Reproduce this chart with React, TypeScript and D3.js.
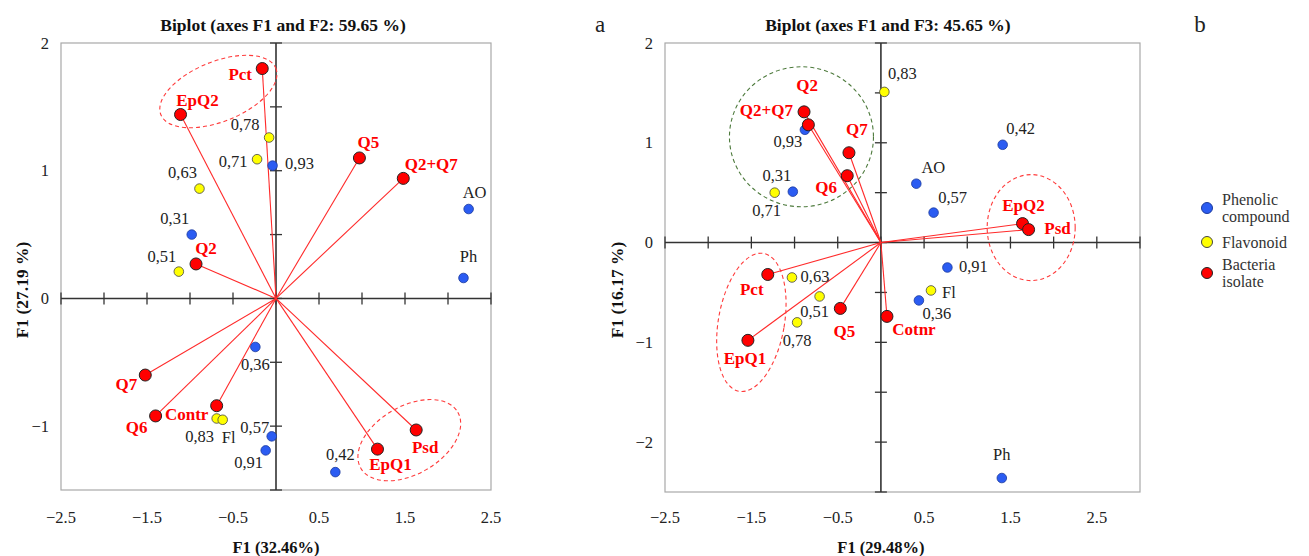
import * as d3 from "d3";

const W = 1309;
const H = 556;

// ---- panel a : F1 x F2 ----
const phenolA: [string, number, number][] = [
  ["0,93", -0.04, 1.04],
  ["0,31", -0.98, 0.5],
  ["AO", 2.24, 0.7],
  ["Ph", 2.18, 0.16],
  ["0,36", -0.24, -0.38],
  ["0,57", -0.05, -1.08],
  ["0,91", -0.12, -1.19],
  ["0,42", 0.69, -1.36],
];
const flavA: [string, number, number][] = [
  ["0,78", -0.08, 1.26],
  ["0,71", -0.22, 1.09],
  ["0,63", -0.89, 0.86],
  ["0,51", -1.13, 0.21],
  ["0,83", -0.69, -0.94],
  ["Fl", -0.62, -0.95],
];
const bactA: [string, number, number][] = [
  ["Pct", -0.16, 1.8],
  ["EpQ2", -1.11, 1.44],
  ["Q5", 0.97, 1.1],
  ["Q2+Q7", 1.48, 0.94],
  ["Q2", -0.93, 0.27],
  ["Q7", -1.52, -0.6],
  ["Q6", -1.4, -0.92],
  ["Contr", -0.69, -0.84],
  ["EpQ1", 1.18, -1.18],
  ["Psd", 1.63, -1.03],
];

// ---- panel b : F1 x F3 ----
const phenolB: [string, number, number][] = [
  ["0,93", -0.88, 1.13],
  ["0,31", -1.02, 0.51],
  ["0,42", 1.41, 0.98],
  ["AO", 0.41, 0.59],
  ["0,57", 0.61, 0.3],
  ["0,91", 0.77, -0.25],
  ["0,36", 0.44, -0.58],
  ["Ph", 1.4, -2.36],
];
const flavB: [string, number, number][] = [
  ["0,83", 0.04, 1.51],
  ["0,71", -1.23, 0.5],
  ["0,63", -1.03, -0.35],
  ["0,51", -0.71, -0.54],
  ["0,78", -0.97, -0.8],
  ["Fl", 0.58, -0.48],
];
const bactB: [string, number, number][] = [
  ["Q2", -0.89, 1.31],
  ["Q2+Q7", -0.84, 1.18],
  ["Q7", -0.37, 0.9],
  ["Q6", -0.39, 0.67],
  ["EpQ2", 1.64, 0.19],
  ["Psd", 1.71, 0.13],
  ["Pct", -1.31, -0.32],
  ["Q5", -0.47, -0.66],
  ["EpQ1", -1.54, -0.98],
  ["Cotnr", 0.07, -0.74],
];

const xLabelTicks = [-2.5, -1.5, -0.5, 0.5, 1.5, 2.5];
const legendItems = [["Phenolic", "compound"], ["Flavonoid"], ["Bacteria", "isolate"]];

// label nudges (px from the point)
const nudgeA: Record<string, [number, number]> = {
  Pct: [-22, 6], EpQ2: [17, -14], Q5: [9, -15], "Q2+Q7": [28, -14], Q2: [10, -15],
  Q7: [-19, 9], Q6: [-19, 12], Contr: [-30, 9], EpQ1: [13, 15], Psd: [9, 18],
  "0,78": [-24, -13], "0,71": [-24, 2], "0,63": [-17, -16], "0,51": [-17, -15],
  "0,83": [-17, 18], Fl: [6, 18], "0,93": [27, -2], "0,31": [-17, -16],
  AO: [6, -17], Ph: [5, -21], "0,36": [0, 18], "0,57": [-17, -9], "0,91": [-17, 12], "0,42": [5, -18],
};
const nudgeB: Record<string, [number, number]> = {
  Q2: [3, -26], "Q2+Q7": [-42, -14], Q7: [8, -23], Q6: [-21, 12], EpQ2: [1, -18],
  Psd: [29, -1], Pct: [-16, 15], Q5: [4, 23], EpQ1: [-3, 18], Cotnr: [27, 13],
  "0,83": [18, -18], "0,71": [-8, 18], "0,63": [23, -1], "0,51": [-5, 15], "0,78": [0, 18],
  Fl: [18, 2], "0,93": [-17, 12], "0,31": [-16, -16], "0,42": [18, -16], AO: [17, -16],
  "0,57": [19, -15], "0,91": [26, -1], "0,36": [18, 13], Ph: [0, -24],
};

type Ring = { cx: number; cy: number; rx: number; ry: number; rot: number; color: string };
const ringsA: Ring[] = [
  { cx: -0.67, cy: 1.62, rx: 62, ry: 30, rot: -22, color: "#ff3b3b" },
  { cx: 1.55, cy: -1.11, rx: 56, ry: 34, rot: -30, color: "#ff3b3b" },
];
const ringsB: Ring[] = [
  { cx: -0.92, cy: 1.06, rx: 72, ry: 70, rot: 0, color: "#4d7a3c" },
  { cx: 1.74, cy: 0.15, rx: 44, ry: 53, rot: 0, color: "#ff3b3b" },
  { cx: -1.5, cy: -0.8, rx: 33, ry: 70, rot: 10, color: "#ff3b3b" },
];

const RED = "#ff0000";
const BLUE = "#2b5cf2";
const YELLOW = "#ffff00";

const fmt = (v: number) => (v < 0 ? "\u2212" : "") + Math.abs(v);

function Biplot(props: any) {
  const { title, tag, tagX, xTitle, yTitle, yTitleX, xDomain, yDomain, left, right, top, bottom,
    phenol, flav, bact, nudge, rings } = props;
  const x = d3.scaleLinear().domain(xDomain).range([left, right]);
  const y = d3.scaleLinear().domain(yDomain).range([bottom, top]);
  const x0 = x(0);
  const y0 = y(0);
  const xTicks = d3.range(xDomain[0], xDomain[1] + 1e-6, 0.5);
  const yTicks = d3.range(yDomain[0], yDomain[1] + 1e-6, 0.5);
  const yLabels = yTicks.filter((v) => Number.isInteger(v));

  const label = (d: [string, number, number], red: boolean) => {
    const [dx, dy] = nudge[d[0]] || [0, 0];
    return (
      <text key={"l" + d[0]} x={x(d[1]) + dx} y={y(d[2]) + dy} textAnchor="middle" dominantBaseline="central"
        fontSize={red ? 17 : 16.5} fontWeight={red ? "bold" : "normal"} fill={red ? RED : "#222"}>
        {d[0]}
      </text>
    );
  };

  return (
    <g>
      <text x={x0 + 7} y={31} textAnchor="middle" fontSize={17.5} fontWeight="bold" fill="#111">{title}</text>
      <text x={tagX} y={32} textAnchor="middle" fontSize={23} fill="#222">{tag}</text>
      <rect x={left} y={top} width={right - left} height={bottom - top} fill="none" stroke="#a8a8a8" strokeWidth={1.2} />
      {/* axes through origin */}
      <line x1={left} x2={right} y1={y0} y2={y0} stroke="#333" strokeWidth={1.6} />
      <line x1={x0} x2={x0} y1={top} y2={bottom} stroke="#333" strokeWidth={1.6} />
      {xTicks.map((v) => (
        <line key={"xt" + v} x1={x(v)} x2={x(v)} y1={y0 - 6} y2={y0 + 6} stroke="#333" strokeWidth={1.3} />
      ))}
      {yTicks.map((v) => (
        <line key={"yt" + v} x1={x0 - 6} x2={x0 + 6} y1={y(v)} y2={y(v)} stroke="#333" strokeWidth={1.3} />
      ))}
      {xLabelTicks.map((v) => (
        <text key={"xl" + v} x={x(v)} y={523} textAnchor="middle" fontSize={16.5} fill="#222">{fmt(v)}</text>
      ))}
      {yLabels.map((v) => (
        <text key={"yl" + v} x={left - 12} y={y(v)} textAnchor="end" dominantBaseline="central" fontSize={16.5} fill="#222">{fmt(v)}</text>
      ))}
      <text x={x0} y={553} textAnchor="middle" fontSize={16.5} fontWeight="bold" fill="#111">{xTitle}</text>
      <text transform={`translate(${yTitleX},290) rotate(-90)`} textAnchor="middle" dominantBaseline="central"
        fontSize={17.5} fontWeight="bold" fill="#111">{yTitle}</text>

      {/* vectors */}
      {bact.map((d: [string, number, number]) => (
        <line key={"v" + d[0]} x1={x0} y1={y0} x2={x(d[1])} y2={y(d[2])} stroke="#ff2a2a" strokeWidth={1.1} />
      ))}
      {rings.map((r: Ring, i: number) => (
        <ellipse key={"r" + i} cx={0} cy={0} rx={r.rx} ry={r.ry} fill="none" stroke={r.color} strokeWidth={1.1}
          strokeDasharray="4 3" transform={`translate(${x(r.cx)},${y(r.cy)}) rotate(${r.rot})`} />
      ))}
      {phenol.map((d: [string, number, number]) => (
        <circle key={"p" + d[0]} cx={x(d[1])} cy={y(d[2])} r={4.8} fill={BLUE} stroke="#1c3a9c" strokeWidth={0.8} />
      ))}
      {flav.map((d: [string, number, number]) => (
        <circle key={"f" + d[0]} cx={x(d[1])} cy={y(d[2])} r={4.8} fill={YELLOW} stroke="#444" strokeWidth={0.8} />
      ))}
      {bact.map((d: [string, number, number]) => (
        <circle key={"b" + d[0]} cx={x(d[1])} cy={y(d[2])} r={6} fill={RED} stroke="#222" strokeWidth={1} />
      ))}
      {phenol.map((d: [string, number, number]) => label(d, false))}
      {flav.map((d: [string, number, number]) => label(d, false))}
      {bact.map((d: [string, number, number]) => label(d, true))}
    </g>
  );
}

export default function App() {
  const legendColors = [BLUE, YELLOW, RED];
  const legendStroke = ["#1c3a9c", "#444", "#222"];
  const legendY = [208, 242, 273];
  return (
    <svg width={W} height={H} style={{ position: "absolute", left: 0, top: 0, background: "#fff" }}
      fontFamily="'Liberation Serif', 'DejaVu Serif', serif">
      <Biplot title="Biplot (axes F1 and F2: 59.65 %)" tag="a" tagX={600}
        xTitle="F1 (32.46%)" yTitle="F1 (27.19 %)" yTitleX={22}
        xDomain={[-2.5, 2.5]} yDomain={[-1.5, 2]} left={61} right={491} top={43} bottom={490}
        phenol={phenolA} flav={flavA} bact={bactA} nudge={nudgeA} rings={ringsA} />
      <Biplot title="Biplot (axes F1 and F3: 45.65 %)" tag="b" tagX={1200}
        xTitle="F1 (29.48%)" yTitle="F1 (16.17 %)" yTitleX={617}
        xDomain={[-2.5, 3]} yDomain={[-2.5, 2]} left={665} right={1140} top={43} bottom={492}
        phenol={phenolB} flav={flavB} bact={bactB} nudge={nudgeB} rings={ringsB} />
      {legendItems.map((words, i) => (
        <g key={words[0]}>
          <circle cx={1207} cy={legendY[i]} r={5.5} fill={legendColors[i]} stroke={legendStroke[i]} strokeWidth={1} />
          {words.map((w, j) => (
            <text key={w} x={1222} dominantBaseline="central" fontSize={16} fill="#333"
              y={legendY[i] + (words.length > 1 ? (j === 0 ? -9 : 8) : 0)}>
              {w}
            </text>
          ))}
        </g>
      ))}
    </svg>
  );
}
